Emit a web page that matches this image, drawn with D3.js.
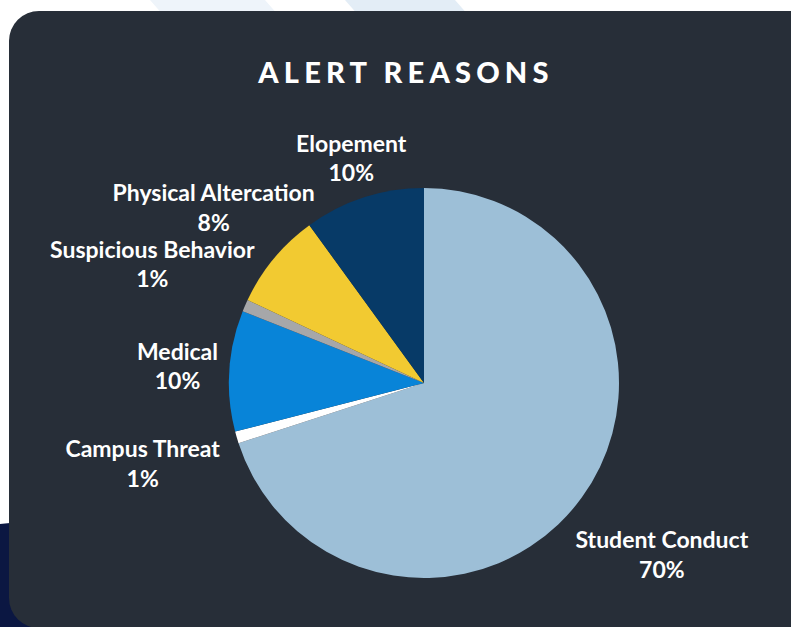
<!DOCTYPE html>
<html>
<head>
<meta charset="utf-8">
<script src="https://cdn.jsdelivr.net/npm/d3@7"></script>
<style>
  html, body { margin: 0; padding: 0; background: #ffffff; }
  svg { display: block; }
  .sliceLabel { font-family: Lato, "Open Sans", sans-serif; font-weight: 700; font-size: 23px; fill: #ffffff; }
  .title { font-family: Lato, "Open Sans", sans-serif; font-weight: 900; font-size: 29px; fill: #ffffff; letter-spacing: 5.2px; }
</style>
</head>
<body>
<div id="chart"></div>
<script>
// Chart data
var categories = ["Student Conduct", "Campus Threat", "Medical", "Suspicious Behavior", "Physical Altercation", "Elopement"];
var percents = [70, 1, 10, 1, 8, 10];
var colors = ["#9dbfd7", "#ffffff", "#0884d8", "#a6a7a9", "#f2ca31", "#073a67"];

// Label distance from the pie centre, along each slice's middle angle
var labelDist = [294, 293, 247, 296, 273, 235.5];

var width = 791, height = 627;
var cx = 424, cy = 383, radius = 195;

var svg = d3.select("#chart")
    .append("svg")
        .attr("width", width)
        .attr("height", height);

// Background decoration
svg.append("polygon")
    .attr("points", "150,0 265,0 300,40 185,40")
    .attr("fill", "#eef4fa");
svg.append("polygon")
    .attr("points", "345,0 455,0 490,40 380,40")
    .attr("fill", "#e3edf6");
svg.append("polygon")
    .attr("points", "0,524 30,521 791,560 791,627 0,627")
    .attr("fill", "#0b1742");

// Card
svg.append("rect")
    .attr("x", 9)
    .attr("y", 11)
    .attr("width", 812)
    .attr("height", 617)
    .attr("rx", 30)
    .attr("fill", "#272e38");

// Title
svg.append("text")
    .attr("class", "title")
    .attr("x", 406)
    .attr("y", 83)
    .attr("text-anchor", "middle")
    .text("ALERT REASONS");

var data = categories.map(function(c, i) {
    return { name: c, value: percents[i], color: colors[i], dist: labelDist[i] };
});

var pie = d3.pie()
    .value(d => d.value)
    .sort(null);

var arc = d3.arc()
    .innerRadius(0)
    .outerRadius(radius);

var arcs = pie(data);

var chartGroup = svg.append("g")
    .attr("transform", `translate(${cx}, ${cy})`);

chartGroup.selectAll("path")
    .data(arcs)
    .enter()
    .append("path")
        .attr("d", arc)
        .attr("fill", d => d.data.color);

// Labels
var labels = chartGroup.selectAll(".sliceLabel")
    .data(arcs)
    .enter()
    .append("text")
        .attr("class", "sliceLabel")
        .attr("text-anchor", "middle")
        .attr("transform", function(d) {
            var a = (d.startAngle + d.endAngle) / 2;
            var x = Math.sin(a) * d.data.dist;
            var y = -Math.cos(a) * d.data.dist;
            return `translate(${x}, ${y})`;
        });

labels.append("tspan")
    .attr("x", 0)
    .attr("y", -7.5)
    .text(d => d.data.name);

labels.append("tspan")
    .attr("x", 0)
    .attr("y", 22)
    .text(d => d.data.value + "%");
</script>
</body>
</html>
